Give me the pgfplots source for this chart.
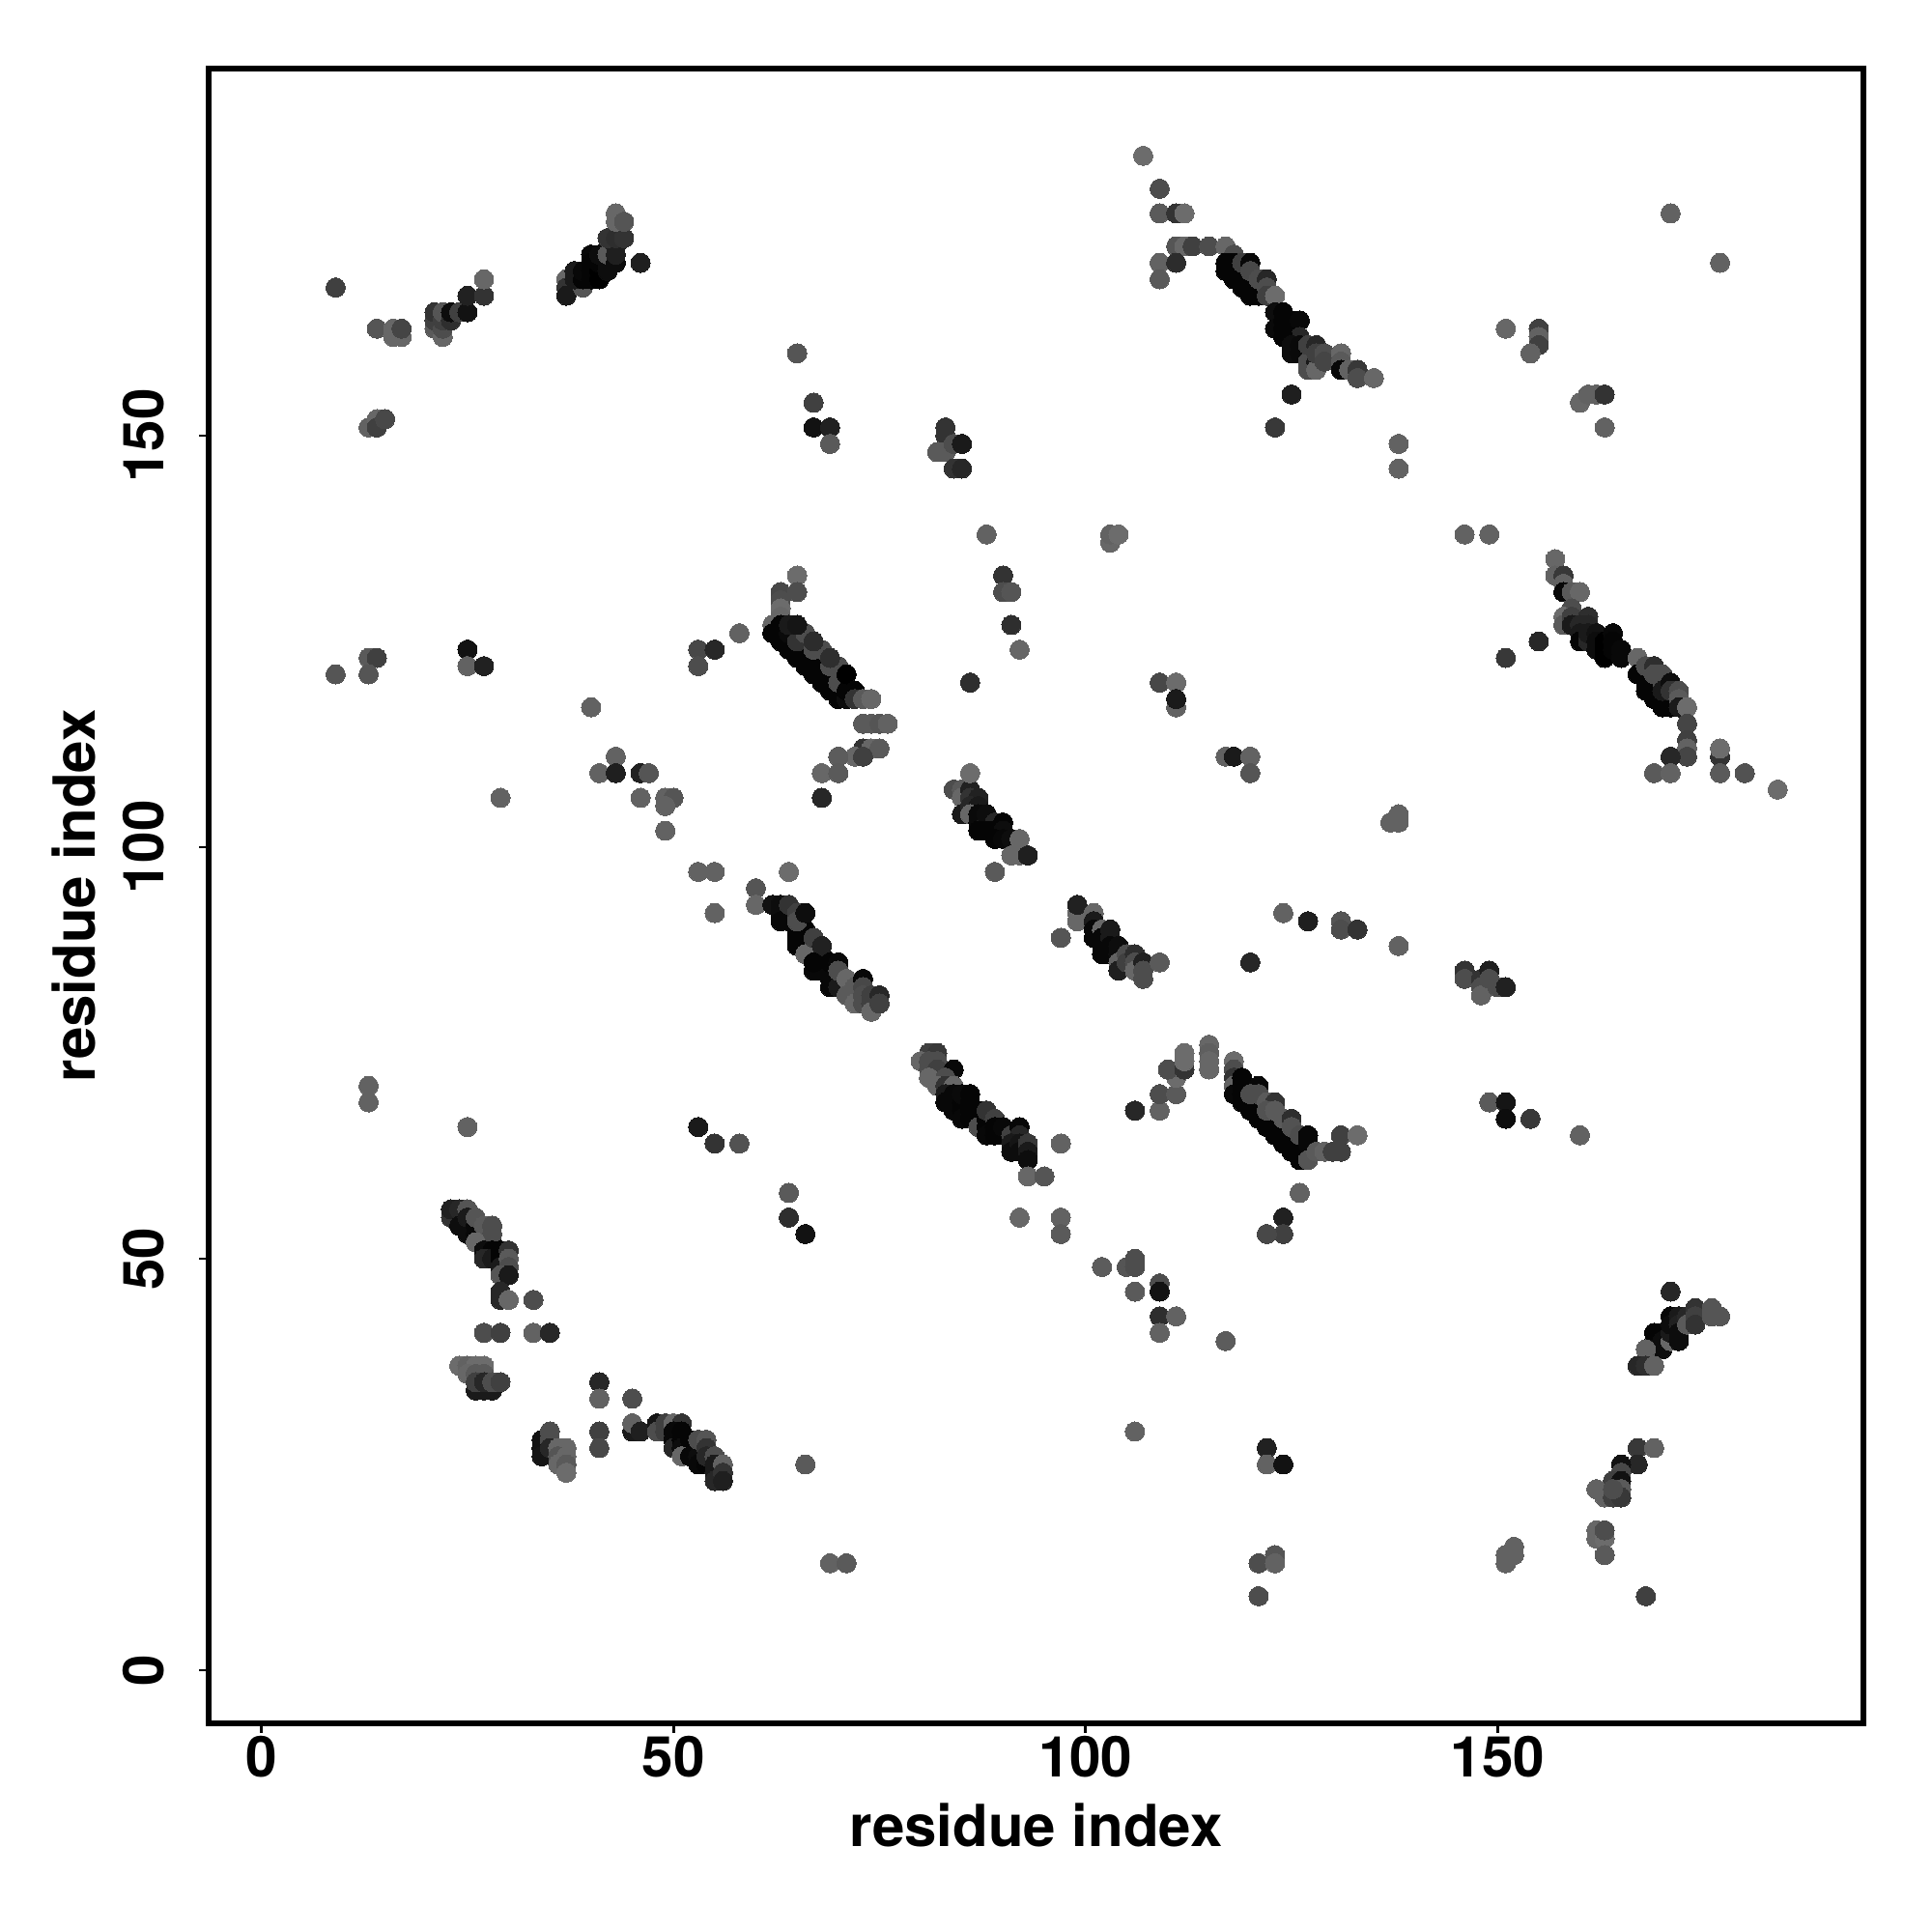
\documentclass[border=0pt]{standalone}
\usepackage{pgfplots}
\pgfplotsset{compat=1.18}
\usepackage{fontspec}
\setmainfont{TeX Gyre Heros}
\begin{document}
\begin{tikzpicture}
\useasboundingbox (-54bp,-54bp) rectangle (446bp,446bp);
\begin{axis}[
  scale only axis, width=428.25bp, height=428.25bp,
  xmin=-6.41, xmax=194.4, ymin=-6.45, ymax=194.6,
  xtick={0,50,100,150}, ytick={0,50,100,150},
  tick align=outside, tick pos=left,
  major tick length=2.4bp,
  axis line style={line width=1.38bp, black},
  every tick/.style={line width=0.72bp, black},
  axis on top,
  /pgf/number format/assume math mode=true,
  xticklabel style={font=\fontsize{14.6bp}{18bp}\selectfont\bfseries, anchor=base, yshift=-11.4bp},
  yticklabel style={font=\fontsize{14.6bp}{18bp}\selectfont\bfseries, rotate=90, anchor=base, yshift=9.15bp},
  every axis x label/.style={at={(axis description cs:0.5,0)}, anchor=base, yshift=-31.75bp, font=\fontsize{15bp}{18bp}\selectfont\bfseries},
  every axis y label/.style={at={(axis description cs:0,0.5)}, rotate=90, anchor=base, yshift=29.25bp, font=\fontsize{15bp}{18bp}\selectfont\bfseries},
  xlabel={residue index}, ylabel={residue index},
  colormap={g}{gray(0cm)=(0); gray(1cm)=(1)},
  point meta min=0, point meta max=1,
  clip=false,
]
\addplot[only marks, scatter, scatter src=explicit, mark=*, mark size=2.5pt,
  mark options={line width=0pt},
  scatter/use mapped color={draw=mapped color, fill=mapped color}]
 table[x=x, y=y, meta=g] {
x y g
9 168 .25
14 163 .33
16 163 .4
16 162 .4
17 162 .4
17 163 .27
21 163 .35
21 164 .25
21 165 .2
22 162 .4
22 163 .3
22 164 .25
22 165 .33
23 164 .18
23 165 .05
24 165 .25
25 165 .07
25 167 .13
27 167 .2
27 169 .4
37 169 .4
37 168 .2
37 167 .1
39 168 .33
38 170 .1
38 169 .1
39 169 .02
39 170 .03
40 172 .03
40 171 .02
40 170 .02
40 169 .02
41 169 .0
41 170 .0
41 171 .02
41 172 .05
42 170 .05
42 171 .05
42 172 .35
43 171 .05
43 172 .12
43 173 .12
42 174 .2
43 174 .18
44 174 .2
43 176 .4
43 177 .4
44 176 .33
46 171 .12
13 151 .38
14 152 .4
14 151 .25
15 152 .28
25 124 .07
25 122 .38
27 122 .13
13 123 .35
14 123 .25
13 121 .33
9 121 .33
58 126 .38
53 124 .28
55 124 .15
53 122 .3
62 127 .4
62 126 .02
63 125 .02
64 124 .02
65 123 .02
66 122 .02
67 121 .02
68 120 .02
69 119 .02
70 118 .02
64 125 .02
65 124 .02
66 123 .02
67 122 .02
68 121 .02
69 120 .02
70 119 .02
71 118 .05
65 133 .42
63 131 .28
65 131 .3
63 130 .3
63 129 .42
63 128 .4
63 127 .02
63 126 .02
64 126 .04
65 125 .2
66 126 .3
67 124 .3
68 124 .3
69 122 .3
70 122 .3
70 120 .3
64 127 .1
65 127 .08
67 125 .17
69 123 .18
71 119 .02
71 121 .0
72 119 .02
72 118 .2
73 118 .35
74 118 .4
73 115 .35
74 115 .35
75 115 .33
76 115 .38
73 112 .2
74 112 .4
75 112 .35
72 111 .4
73 111 .25
70 111 .36
68 109 .4
70 109 .35
68 106 .15
90 133 .2
90 131 .3
91 131 .33
91 127 .18
92 124 .4
86 120 .18
88 138 .38
103 137 .4
103 138 .38
104 138 .42
109 120 .28
111 120 .42
111 117 .38
111 118 .1
84 107 .3
85 107 .35
85 106 .4
86 107 .13
86 106 .2
87 106 .13
85 104 .1
86 105 .15
87 105 .1
86 104 .4
87 104 .04
87 103 .04
88 103 .1
88 104 .05
89 103 .15
90 103 .02
87 102 .02
88 102 .02
89 102 .02
90 102 .05
89 101 .02
90 101 .03
91 101 .05
92 101 .4
91 99 .4
92 99 .4
93 99 .12
89 97 .35
86 109 .42
60 95 .33
60 93 .4
64 97 .42
62 93 .07
63 93 .05
63 92 .05
64 92 .1
63 91 .03
64 91 .03
65 90 .03
66 90 .02
65 89 .02
65 88 .02
66 88 .02
66 89 .02
67 88 .02
67 87 .02
68 87 .02
68 86 .02
69 85 .02
69 84 .02
70 84 .02
70 85 .02
71 83 .03
66 87 .4
64 93 .2
65 92 .25
65 91 .3
66 92 .05
67 89 .25
68 88 .13
67 85 .03
68 85 .03
67 86 .02
69 86 .02
70 86 .03
69 83 .03
70 83 .1
70 85 .3
71 84 .4
71 82 .35
72 83 .35
72 81 .4
73 84 .03
73 83 .28
73 82 .3
73 81 .3
74 82 .25
74 81 .25
74 80 .4
75 82 .15
75 81 .25
81 75 .25
82 75 .22
80 74 .4
81 74 .3
82 74 .3
81 73 .3
82 73 .25
84 73 .03
81 72 .4
83 72 .3
82 71 .4
83 71 .2
84 71 .4
83 70 .1
83 69 .03
84 70 .03
84 69 .03
84 68 .03
85 69 .02
85 68 .02
85 70 .04
85 67 .03
86 70 .02
86 69 .02
86 68 .02
86 67 .02
87 68 .02
87 67 .02
87 66 .3
88 67 .02
88 66 .02
88 68 .2
89 67 .25
88 65 .03
89 65 .02
89 66 .02
90 65 .02
90 66 .03
91 65 .25
92 66 .03
92 65 .15
91 64 .1
91 63 .05
92 64 .08
92 63 .05
93 64 .22
93 63 .1
93 62 .05
97 64 .38
93 60 .4
95 60 .33
58 64 .32
64 58 .35
64 55 .18
66 53 .07
92 55 .4
97 55 .38
97 53 .35
102 49 .36
105 49 .33
106 50 .3
106 49 .3
106 46 .35
109 47 .3
109 46 .07
109 43 .18
111 43 .38
109 41 .38
106 68 .15
109 68 .38
109 70 .3
111 70 .35
111 72 .42
110 73 .3
112 73 .2
112 74 .42
112 75 .42
115 76 .4
115 75 .37
115 74 .4
115 73 .4
118 74 .42
118 73 .3
118 72 .2
118 71 .38
118 70 .03
119 72 .02
119 71 .02
119 70 .02
119 69 .02
120 69 .02
120 68 .02
121 68 .02
121 67 .02
122 67 .02
122 66 .02
123 66 .02
123 65 .02
124 65 .02
124 64 .02
125 64 .02
125 63 .02
126 63 .02
126 62 .02
121 71 .03
120 70 .3
121 70 .3
122 69 .35
123 69 .2
122 68 .32
123 68 .35
124 67 .35
125 67 .18
125 66 .32
126 65 .3
127 65 .03
127 64 .03
127 62 .33
128 63 .35
129 63 .38
130 63 .25
131 63 .25
131 65 .25
133 65 .42
126 58 .38
124 55 .13
124 53 .25
122 53 .28
149 69 .35
151 69 .08
151 67 .05
154 67 .22
117 40 .36
160 65 .38
107 184 .42
109 180 .3
109 177 .35
111 177 .2
112 177 .42
111 173 .33
112 173 .4
113 173 .25
115 173 .3
117 173 .4
118 172 .3
109 171 .38
111 171 .17
109 169 .35
117 171 .02
117 170 .02
118 170 .02
118 169 .02
119 169 .02
119 168 .02
120 168 .02
120 167 .02
121 167 .02
118 171 .02
119 170 .02
120 169 .02
119 171 .25
120 171 .03
120 170 .28
121 169 .3
122 169 .15
122 168 .3
122 167 .25
123 167 .42
123 165 .05
124 165 .02
123 163 .04
124 164 .02
124 163 .02
125 164 .02
125 163 .02
126 164 .03
125 162 .02
126 162 .15
124 162 .02
125 161 .05
125 160 .05
126 161 .04
126 160 .04
127 160 .04
127 159 .3
127 158 .3
128 159 .1
128 158 .4
127 161 .25
128 161 .15
128 160 .25
129 160 .3
129 159 .27
131 160 .4
131 159 .35
131 158 .03
132 158 .38
133 158 .22
133 157 .3
135 157 .4
125 155 .12
123 151 .22
138 149 .38
138 146 .38
151 163 .4
155 163 .25
155 162 .38
155 161 .25
154 160 .38
146 138 .38
149 138 .38
157 135 .4
157 133 .38
158 133 .22
158 132 .38
158 131 .03
159 131 .35
160 131 .4
159 129 .3
158 128 .42
158 127 .35
159 128 .25
161 128 .18
159 127 .1
160 127 .15
161 127 .15
160 126 .1
160 125 .02
161 125 .15
161 126 .1
162 126 .07
162 125 .05
162 124 .05
163 125 .0
163 124 .0
163 123 .0
164 126 .03
164 125 .02
164 124 .02
165 124 .03
165 123 .03
155 125 .15
151 123 .22
167 123 .4
167 121 .02
168 121 .02
168 120 .02
168 119 .02
169 120 .02
169 119 .02
169 118 .02
170 118 .02
170 117 .02
171 118 .02
171 117 .02
168 122 .3
169 122 .18
169 121 .3
170 121 .3
170 120 .3
170 119 .1
171 120 .05
171 119 .2
172 119 .3
172 118 .35
172 117 .1
173 117 .42
173 115 .27
173 113 .25
173 112 .38
173 111 .27
171 111 .15
169 109 .35
171 109 .38
177 111 .2
177 112 .42
177 109 .35
180 109 .32
184 107 .42
23 55 .2
23 56 .13
24 56 .15
25 56 .33
24 54 .05
25 53 .05
25 54 .05
25 55 .1
26 54 .03
26 53 .03
26 55 .33
27 53 .03
27 52 .03
27 54 .35
28 52 .02
28 54 .3
28 53 .3
26 52 .4
27 51 .05
28 51 .02
27 50 .15
28 50 .1
29 50 .02
29 51 .02
29 49 .1
30 51 .2
30 50 .35
30 49 .3
29 48 .33
30 48 .1
29 46 .15
29 45 .15
30 45 .4
33 45 .3
27 41 .3
29 41 .25
33 41 .38
35 41 .15
24 37 .42
25 37 .38
26 37 .42
27 37 .42
25 36 .4
26 36 .35
27 36 .35
26 34 .1
27 34 .1
28 34 .1
26 35 .25
27 35 .15
28 35 .3
29 35 .25
41 35 .15
41 33 .38
45 33 .3
45 29 .1
45 30 .38
46 29 .12
41 29 .25
41 27 .28
34 28 .07
34 27 .07
34 26 .08
35 29 .3
35 28 .3
35 27 .15
36 27 .4
37 27 .4
36 26 .33
37 26 .4
36 25 .4
37 25 .35
37 24 .42
48 30 .08
48 29 .3
49 30 .25
49 29 .25
50 30 .4
51 30 .2
50 29 .03
50 28 .03
50 27 .15
51 29 .02
51 28 .02
51 27 .05
52 28 .02
52 27 .02
51 26 .4
52 26 .03
53 26 .05
53 25 .03
54 25 .02
53 28 .3
54 28 .33
54 27 .2
54 26 .15
55 26 .3
55 25 .1
55 24 .1
55 23 .15
56 25 .38
56 24 .2
56 23 .12
66 25 .35
171 46 .15
170 41 .03
169 41 .02
169 40 .02
169 39 .05
170 40 .05
170 39 .05
171 40 .4
171 41 .1
171 43 .03
171 42 .05
172 43 .1
172 42 .13
172 41 .05
172 40 .05
173 43 .15
173 42 .35
174 44 .2
174 43 .25
174 42 .2
176 44 .33
176 43 .33
177 43 .33
168 39 .38
167 37 .15
168 37 .18
169 37 .38
167 27 .22
169 27 .38
167 25 .15
165 25 .07
165 24 .28
164 23 .25
165 23 .07
165 22 .35
162 22 .38
163 21 .38
164 21 .25
165 21 .22
164 22 .3
162 17 .4
162 16 .4
163 16 .42
163 17 .3
163 14 .35
168 9 .25
65 160 .33
67 154 .25
67 151 .07
69 151 .13
69 149 .35
83 151 .2
83 150 .2
82 148 .35
83 148 .35
84 149 .3
85 149 .1
84 146 .2
85 146 .15
160 154 .4
161 155 .38
162 155 .38
163 155 .2
163 151 .38
40 117 .38
41 109 .38
43 111 .38
43 109 .12
46 109 .13
47 109 .33
46 106 .38
49 106 .38
50 106 .33
49 105 .38
49 102 .38
29 106 .38
53 97 .38
55 97 .38
55 92 .38
13 71 .38
13 69 .38
25 66 .38
53 66 .1
55 64 .2
117 111 .38
118 111 .1
120 111 .38
120 109 .33
124 92 .38
127 91 .12
131 91 .33
131 90 .3
133 90 .2
138 88 .38
120 86 .15
137 103 .38
138 104 .38
138 103 .38
146 85 .2
146 84 .3
148 84 .2
148 83 .3
148 82 .38
149 85 .12
149 84 .3
150 83 .3
151 83 .13
99 92 .4
99 91 .4
99 93 .13
101 92 .4
97 89 .33
101 91 .1
101 90 .03
101 89 .03
102 90 .4
102 89 .03
102 88 .03
102 87 .03
103 90 .1
103 89 .1
103 88 .03
103 87 .03
104 88 .05
104 87 .05
104 86 .38
104 85 .12
105 87 .3
105 86 .25
106 87 .18
106 86 .3
106 85 .4
107 86 .13
107 85 .3
107 84 .3
109 86 .35
106 29 .38
122 27 .13
122 25 .38
124 25 .07
121 13 .3
123 14 .33
123 13 .38
121 9 .3
69 13 .38
71 13 .35
151 13 .38
151 14 .38
152 14 .38
152 15 .38
171 177 .38
177 171 .38
};
\end{axis}
\end{tikzpicture}
\end{document}
